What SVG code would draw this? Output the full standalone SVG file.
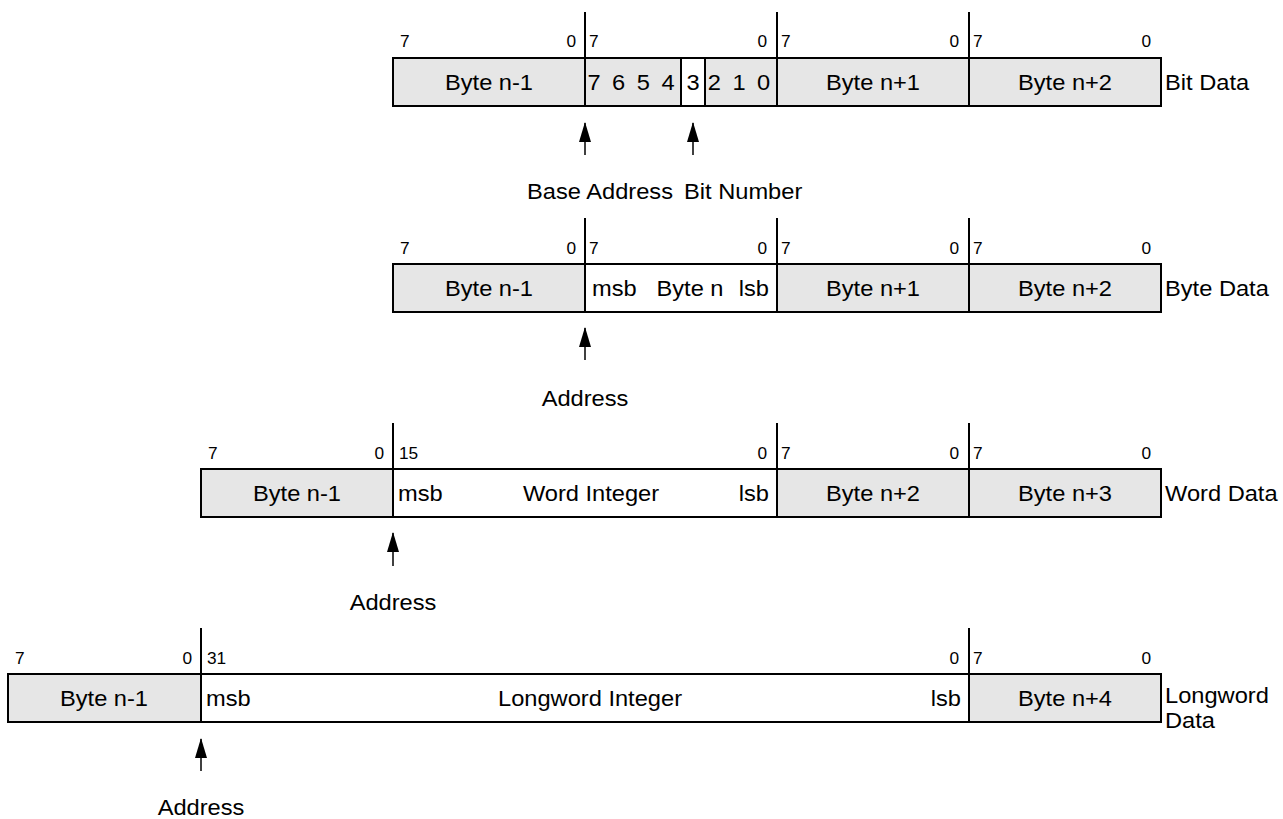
<svg xmlns="http://www.w3.org/2000/svg" width="1283" height="819" viewBox="0 0 1283 819">
<style>
text{font-family:"Liberation Sans",Arial,Helvetica,sans-serif;fill:#000}
.b{font-size:21.5px}
.n{font-size:16px}
.c{text-anchor:middle}
.s{text-anchor:start}
.e{text-anchor:end}
.g{fill:#e6e6e6;stroke:#000;stroke-width:2}
.w{fill:#fff;stroke:#000;stroke-width:2}
.l{stroke:#000;stroke-width:2;fill:none}
.a{stroke:#000;stroke-width:1.5;fill:none;marker-end:url(#ah)}
</style>
<defs>
<marker id="ah" markerUnits="userSpaceOnUse" markerWidth="20" markerHeight="12" refX="19" refY="6" orient="auto">
<path d="M0,0 L20,6 L0,12 z" fill="#000"/>
</marker>
</defs>
<rect width="1283" height="819" fill="#fff"/>

<g id="bit-data">
<rect class="g" x="393" y="58" width="192" height="48"/>
<rect class="g" x="585" y="58" width="96" height="48"/>
<rect class="w" x="681" y="58" width="24" height="48"/>
<rect class="g" x="705" y="58" width="72" height="48"/>
<rect class="g" x="777" y="58" width="192" height="48"/>
<rect class="g" x="969" y="58" width="192" height="48"/>
<path class="l" d="M585,12V58M777,12V58M969,12V58"/>
<text class="n s" transform="translate(400 47) scale(1.08 1)">7</text>
<text class="n e" transform="translate(576 47) scale(1.08 1)">0</text>
<text class="n s" transform="translate(589 47) scale(1.08 1)">7</text>
<text class="n e" transform="translate(767 47) scale(1.08 1)">0</text>
<text class="n s" transform="translate(781 47) scale(1.08 1)">7</text>
<text class="n e" transform="translate(959 47) scale(1.08 1)">0</text>
<text class="n s" transform="translate(973 47) scale(1.08 1)">7</text>
<text class="n e" transform="translate(1151 47) scale(1.08 1)">0</text>
<text class="b c" transform="translate(489 90) scale(1.1 1)">Byte n-1</text>
<text class="b c" transform="translate(631 90) scale(1.1 1)" word-spacing="4.5">7 6 5 4</text>
<text class="b c" transform="translate(693 90) scale(1.1 1)">3</text>
<text class="b c" transform="translate(739 90) scale(1.1 1)" word-spacing="4.5">2 1 0</text>
<text class="b c" transform="translate(873 90) scale(1.1 1)">Byte n+1</text>
<text class="b c" transform="translate(1065 90) scale(1.1 1)">Byte n+2</text>
<text class="b s" transform="translate(1165 90) scale(1.1 1)">Bit Data</text>
<text class="b e" transform="translate(673 199) scale(1.1 1)">Base Address</text>
<text class="b s" transform="translate(684 199) scale(1.1 1)">Bit Number</text>
</g>

<g id="byte-data">
<rect class="g" x="393" y="264" width="192" height="48"/>
<rect class="w" x="585" y="264" width="192" height="48"/>
<rect class="g" x="777" y="264" width="192" height="48"/>
<rect class="g" x="969" y="264" width="192" height="48"/>
<path class="l" d="M585,218V264M777,218V264M969,218V264"/>
<text class="n s" transform="translate(400 254) scale(1.08 1)">7</text>
<text class="n e" transform="translate(576 254) scale(1.08 1)">0</text>
<text class="n s" transform="translate(589 254) scale(1.08 1)">7</text>
<text class="n e" transform="translate(767 254) scale(1.08 1)">0</text>
<text class="n s" transform="translate(781 254) scale(1.08 1)">7</text>
<text class="n e" transform="translate(959 254) scale(1.08 1)">0</text>
<text class="n s" transform="translate(973 254) scale(1.08 1)">7</text>
<text class="n e" transform="translate(1151 254) scale(1.08 1)">0</text>
<text class="b c" transform="translate(489 296) scale(1.1 1)">Byte n-1</text>
<text class="b s" transform="translate(592 296) scale(1.1 1)">msb</text>
<text class="b c" transform="translate(690 296) scale(1.1 1)">Byte n</text>
<text class="b e" transform="translate(769 296) scale(1.1 1)">lsb</text>
<text class="b c" transform="translate(873 296) scale(1.1 1)">Byte n+1</text>
<text class="b c" transform="translate(1065 296) scale(1.1 1)">Byte n+2</text>
<text class="b s" transform="translate(1165 296) scale(1.1 1)">Byte Data</text>
<text class="b c" transform="translate(585 406) scale(1.1 1)">Address</text>
</g>

<g id="word-data">
<rect class="g" x="201" y="469" width="192" height="48"/>
<rect class="w" x="393" y="469" width="384" height="48"/>
<rect class="g" x="777" y="469" width="192" height="48"/>
<rect class="g" x="969" y="469" width="192" height="48"/>
<path class="l" d="M393,423V469M777,423V469M969,423V469"/>
<text class="n s" transform="translate(208 459) scale(1.08 1)">7</text>
<text class="n e" transform="translate(384 459) scale(1.08 1)">0</text>
<text class="n s" transform="translate(399 459) scale(1.08 1)">15</text>
<text class="n e" transform="translate(767 459) scale(1.08 1)">0</text>
<text class="n s" transform="translate(781 459) scale(1.08 1)">7</text>
<text class="n e" transform="translate(959 459) scale(1.08 1)">0</text>
<text class="n s" transform="translate(973 459) scale(1.08 1)">7</text>
<text class="n e" transform="translate(1151 459) scale(1.08 1)">0</text>
<text class="b c" transform="translate(297 501) scale(1.1 1)">Byte n-1</text>
<text class="b s" transform="translate(398 501) scale(1.1 1)">msb</text>
<text class="b c" transform="translate(591 501) scale(1.1 1)">Word Integer</text>
<text class="b e" transform="translate(769 501) scale(1.1 1)">lsb</text>
<text class="b c" transform="translate(873 501) scale(1.1 1)">Byte n+2</text>
<text class="b c" transform="translate(1065 501) scale(1.1 1)">Byte n+3</text>
<text class="b s" transform="translate(1165 501) scale(1.1 1)">Word Data</text>
<text class="b c" transform="translate(393 610) scale(1.1 1)">Address</text>
</g>

<g id="longword-data">
<rect class="g" x="8" y="674" width="193" height="48"/>
<rect class="w" x="201" y="674" width="768" height="48"/>
<rect class="g" x="969" y="674" width="192" height="48"/>
<path class="l" d="M201,628V674M969,628V674"/>
<text class="n s" transform="translate(15 664) scale(1.08 1)">7</text>
<text class="n e" transform="translate(192 664) scale(1.08 1)">0</text>
<text class="n s" transform="translate(207 664) scale(1.08 1)">31</text>
<text class="n e" transform="translate(959 664) scale(1.08 1)">0</text>
<text class="n s" transform="translate(973 664) scale(1.08 1)">7</text>
<text class="n e" transform="translate(1151 664) scale(1.08 1)">0</text>
<text class="b c" transform="translate(104 706) scale(1.1 1)">Byte n-1</text>
<text class="b s" transform="translate(206 706) scale(1.1 1)">msb</text>
<text class="b c" transform="translate(590 706) scale(1.1 1)">Longword Integer</text>
<text class="b e" transform="translate(961 706) scale(1.1 1)">lsb</text>
<text class="b c" transform="translate(1065 706) scale(1.1 1)">Byte n+4</text>
<text class="b s" transform="translate(1165 703) scale(1.1 1)">Longword</text>
<text class="b s" transform="translate(1165 728) scale(1.1 1)">Data</text>
<text class="b c" transform="translate(201 815) scale(1.1 1)">Address</text>
</g>

<g id="connectors">
<line class="a" x1="585" y1="155" x2="585" y2="123"/>
<line class="a" x1="693" y1="155" x2="693" y2="123"/>
<line class="a" x1="585" y1="360" x2="585" y2="328"/>
<line class="a" x1="393" y1="566" x2="393" y2="533"/>
<line class="a" x1="201" y1="771" x2="201" y2="739"/>
</g>
</svg>
